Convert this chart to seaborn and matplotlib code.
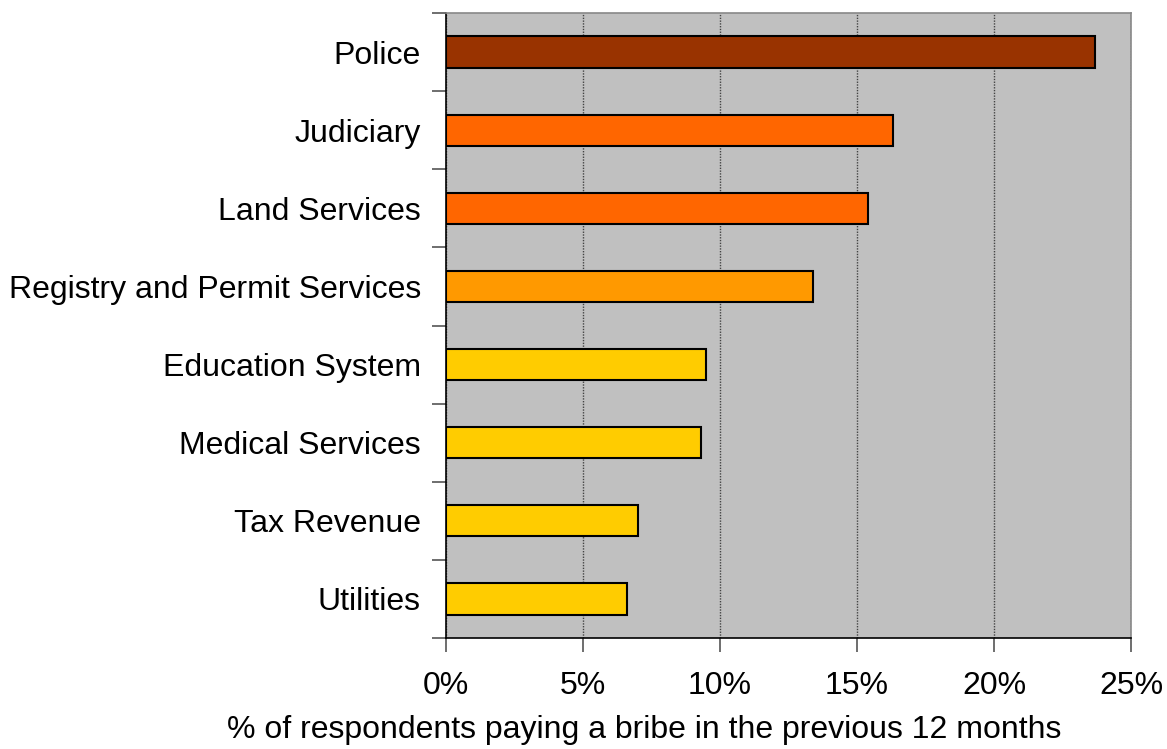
import matplotlib
matplotlib.use("Agg")
import matplotlib.pyplot as plt
import seaborn as sns
import pandas as pd
import numpy as np
from matplotlib.ticker import FixedLocator, PercentFormatter

categories = ["Police", "Judiciary", "Land Services", "Registry and Permit Services",
              "Education System", "Medical Services", "Tax Revenue", "Utilities"]
values = [23.7, 16.3, 15.4, 13.4, 9.5, 9.3, 7.0, 6.6]
colors = ["#993300", "#FF6600", "#FF6600", "#FF9900", "#FFCC00", "#FFCC00", "#FFCC00", "#FFCC00"]
xticks = [0, 5, 10, 15, 20, 25]
xlabel = "% of respondents paying a bribe in the previous 12 months"

df = pd.DataFrame({"category": categories, "value": values})

sns.set_style("white")
plt.rcParams['font.family'] = ['Liberation Sans', 'DejaVu Sans']
plt.rcParams['text.color'] = 'black'
plt.rcParams['axes.labelcolor'] = 'black'
plt.rcParams['xtick.color'] = 'black'
plt.rcParams['ytick.color'] = 'black'

fig = plt.figure(figsize=(11.67, 7.49), dpi=100)
ax = fig.add_axes([446/1167, 1-638/749, (1131-446)/1167, (638-13)/749])

sns.barplot(data=df, y="category", x="value", hue="category", palette=colors,
            saturation=1, legend=False, width=0.4, edgecolor="black", linewidth=1.5,
            ax=ax, zorder=3)

ax.set_facecolor("#C0C0C0")
ax.set_xlim(0, 25)
ax.set_ylim(len(categories) - 0.5, -0.5)
ax.set_xticks(xticks)
ax.xaxis.set_major_formatter(PercentFormatter(decimals=0))
ax.grid(axis="x", color="#444444", linestyle=(0, (1, 1)), linewidth=1, zorder=0)
ax.set_axisbelow(True)

ax.yaxis.set_minor_locator(FixedLocator(np.arange(-0.5, len(categories), 1)))
ax.tick_params(axis="y", which="major", length=0, pad=18, labelsize=23, labelcolor="black")
ax.tick_params(axis="y", which="minor", length=10, width=1.2, color="#555555", direction="out", left=True)
ax.tick_params(axis="x", which="major", length=10, width=1.2, color="#555555", direction="out",
               pad=14, labelsize=23, labelcolor="black", bottom=True)

for s in ["left", "bottom"]:
    ax.spines[s].set_color("#000000")
    ax.spines[s].set_linewidth(1.2)
for s in ["top", "right"]:
    ax.spines[s].set_color("#888888")
    ax.spines[s].set_linewidth(1.2)

ax.set_ylabel("")
ax.set_xlabel(xlabel, fontsize=23, color="black")
ax.xaxis.set_label_coords((644 - 446) / 685, -(730 - 638) / 625)
ax.xaxis.label.set_va("center")

fig.savefig("out.png", dpi=100, facecolor="white")
